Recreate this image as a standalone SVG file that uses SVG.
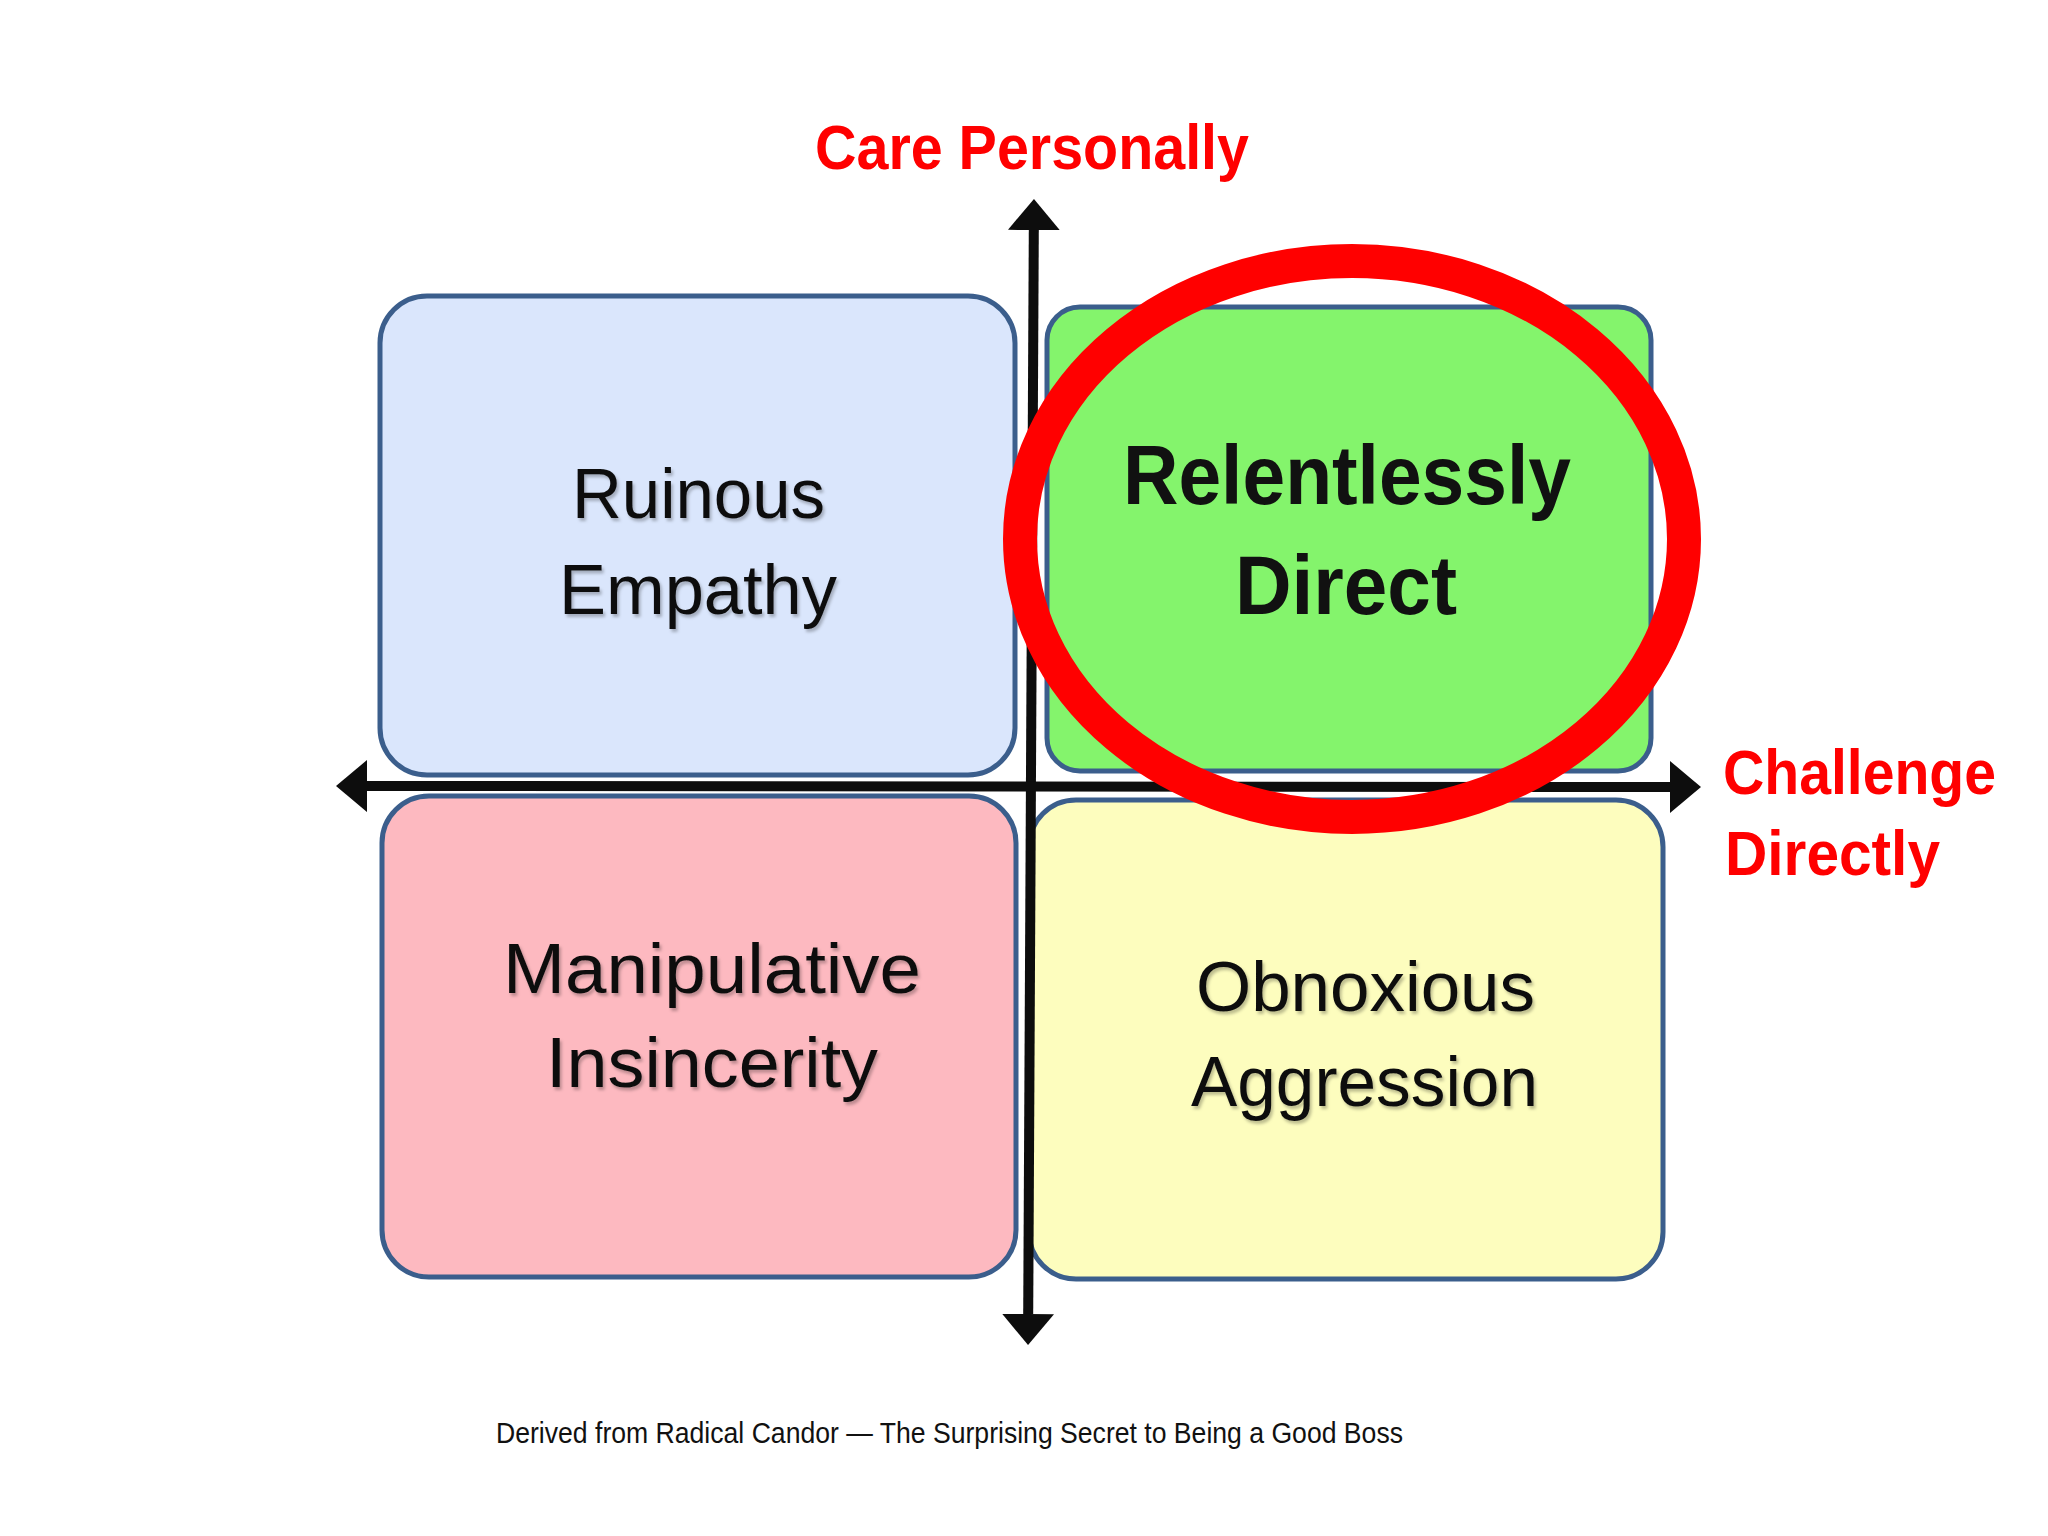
<svg xmlns="http://www.w3.org/2000/svg" width="2048" height="1536" viewBox="0 0 2048 1536">
  <style>
    .box { stroke: #3B5E8C; stroke-width: 5; }
    .axis { stroke: #0D0D0D; stroke-width: 10; fill: none; }
    .lbl { font-family: "Liberation Sans", Arial, sans-serif; font-size: 71px; fill: #111111; filter: url(#shadow); }
    .bold { font-weight: bold; font-size: 84px; filter: none; }
    .axislbl { font-family: "Liberation Sans", Arial, sans-serif; font-weight: bold; font-size: 63px; fill: #FF0000; }
    .caption { font-family: "Liberation Sans", Arial, sans-serif; font-size: 29px; fill: #111111; }
  </style>
  <defs>
    <marker id="head" viewBox="0 0 31 52" refX="0" refY="26" markerWidth="31" markerHeight="52" markerUnits="userSpaceOnUse" orient="auto-start-reverse">
      <path d="M0,0 L31,26 L0,52 z" fill="#0D0D0D"/>
    </marker>
    <filter id="shadow" x="-10%" y="-20%" width="120%" height="140%">
      <feDropShadow dx="2" dy="3" stdDeviation="1.5" flood-color="#000000" flood-opacity="0.25"/>
    </filter>
  </defs>
  <rect x="0" y="0" width="2048" height="1536" fill="#FFFFFF"/>

  <g id="ruinous-empathy">
    <rect class="box" x="380" y="296" width="635" height="479" rx="47" ry="47" fill="#DAE6FC"/>
    <text class="lbl" x="572" y="518" textLength="253" lengthAdjust="spacingAndGlyphs">Ruinous</text>
    <text class="lbl" x="559" y="614" textLength="278" lengthAdjust="spacingAndGlyphs">Empathy</text>
  </g>

  <g id="relentlessly-direct">
    <rect class="box" x="1047" y="307" width="604" height="464" rx="33" ry="33" fill="#84F46C"/>
  </g>

  <g id="manipulative-insincerity">
    <rect class="box" x="382" y="796" width="634" height="481" rx="47" ry="47" fill="#FDB9C0"/>
    <text class="lbl" x="503" y="993" textLength="418" lengthAdjust="spacingAndGlyphs">Manipulative</text>
    <text class="lbl" x="546" y="1087" textLength="332" lengthAdjust="spacingAndGlyphs">Insincerity</text>
  </g>

  <g id="obnoxious-aggression">
    <rect class="box" x="1029" y="800" width="634" height="479" rx="47" ry="47" fill="#FDFDBE"/>
    <text class="lbl" x="1196" y="1011" textLength="339" lengthAdjust="spacingAndGlyphs">Obnoxious</text>
    <text class="lbl" x="1191" y="1106" textLength="347" lengthAdjust="spacingAndGlyphs">Aggression</text>
  </g>

  <g id="connectors">
    <line class="axis" x1="1033.8" y1="230" x2="1028.2" y2="1314" marker-start="url(#head)" marker-end="url(#head)"/>
    <line class="axis" x1="367" y1="786" x2="1670" y2="787" marker-start="url(#head)" marker-end="url(#head)"/>
  </g>

  <g id="highlight-ring">
    <ellipse cx="1352" cy="539" rx="332" ry="278" fill="none" stroke="#FF0000" stroke-width="34"/>
  </g>

  <g id="relentlessly-direct-label">
    <text class="lbl bold" x="1123" y="504" textLength="448" lengthAdjust="spacingAndGlyphs">Relentlessly</text>
    <text class="lbl bold" x="1235" y="614" textLength="222" lengthAdjust="spacingAndGlyphs">Direct</text>
  </g>

  <g id="axis-labels">
    <text class="axislbl" x="815" y="169" textLength="434" lengthAdjust="spacingAndGlyphs">Care Personally</text>
    <text class="axislbl" x="1723" y="794" textLength="273" lengthAdjust="spacingAndGlyphs">Challenge</text>
    <text class="axislbl" x="1725" y="875" textLength="215" lengthAdjust="spacingAndGlyphs">Directly</text>
  </g>

  <g id="caption">
    <text class="caption" x="496" y="1443" textLength="907" lengthAdjust="spacingAndGlyphs">Derived from Radical Candor — The Surprising Secret to Being a Good Boss</text>
  </g>
</svg>
